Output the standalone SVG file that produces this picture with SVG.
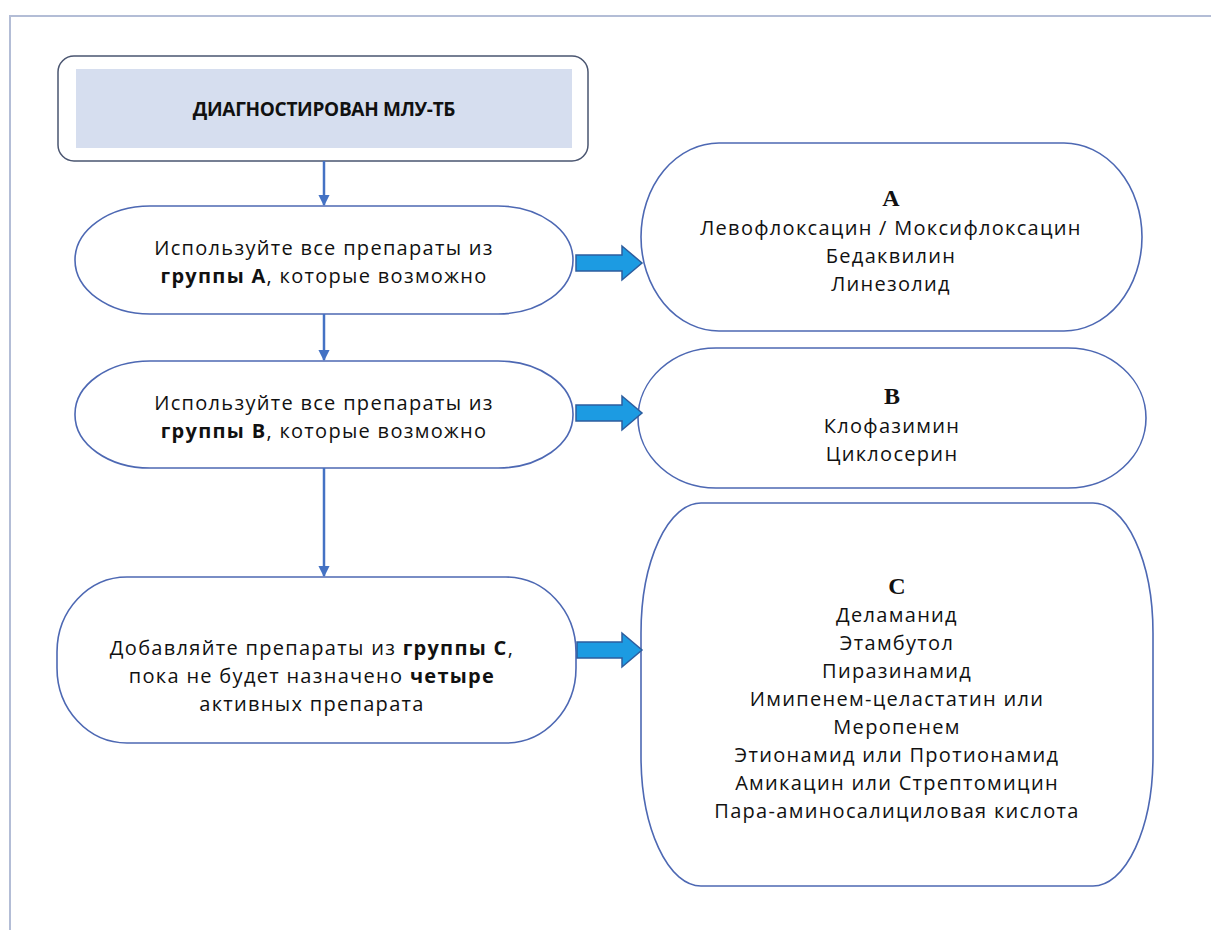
<svg xmlns="http://www.w3.org/2000/svg" width="1211" height="930" viewBox="0 0 1211 930">
<defs>
<style>
.frame{fill:none;stroke:#b3bdd6;stroke-width:2}
.node{fill:#fff;stroke:#4d68b3;stroke-width:1.6}
.t{font-family:"Open Sans","Liberation Sans",sans-serif;font-size:20px;letter-spacing:1.3px;fill:#111;text-anchor:middle}
.b{font-weight:bold}
.h{font-family:"Liberation Serif",serif;font-weight:bold;font-size:24px;fill:#111;text-anchor:middle}
.title{font-family:"Open Sans","Liberation Sans",sans-serif;font-weight:bold;font-size:19px;fill:#111;text-anchor:middle;letter-spacing:-0.3px}
.vline{stroke:#4472c4;stroke-width:2.5;fill:none}
.blk{fill:#1c9be2;stroke:#2d5d9e;stroke-width:1.5;stroke-linejoin:miter}
</style>
<marker id="ah" viewBox="0 0 10 10" refX="9" refY="5" markerWidth="4.5" markerHeight="4.5" orient="auto" markerUnits="strokeWidth">
<path d="M0,0 L10,5 L0,10 z" fill="#4472c4"/>
</marker>
</defs>
<rect width="1211" height="930" fill="#fff"/>
<path class="frame" d="M10,930 V16 H1211"/>

<g id="n0">
<rect x="58" y="56" width="530" height="105" rx="16" fill="#fff" stroke="#4a5570" stroke-width="1.5"/>
<rect x="76" y="69" width="496" height="79" fill="#d6deef"/>
<text class="title" x="324" y="116">ДИАГНОСТИРОВАН МЛУ-ТБ</text>
</g>

<g id="nA">
<rect class="node" x="75" y="206" width="498" height="108" rx="75" ry="54"/>
<text class="t" x="324" y="255">Используйте все препараты из</text>
<text class="t" x="324" y="283"><tspan class="b">группы А</tspan>, которые возможно</text>
</g>

<g id="gA">
<rect class="node" x="641" y="143" width="501" height="188" rx="78" ry="94"/>
<text class="h" x="891" y="206">A</text>
<text class="t" x="891" y="235">Левофлоксацин / Моксифлоксацин</text>
<text class="t" x="891" y="263">Бедаквилин</text>
<text class="t" x="891" y="291">Линезолид</text>
</g>

<g id="nB">
<rect class="node" x="75" y="361" width="498" height="107" rx="75" ry="53"/>
<text class="t" x="324" y="410">Используйте все препараты из</text>
<text class="t" x="324" y="438"><tspan class="b">группы В</tspan>, которые возможно</text>
</g>

<g id="gB">
<rect class="node" x="638" y="348" width="508" height="140" rx="78" ry="70"/>
<text class="h" x="892" y="404">B</text>
<text class="t" x="892" y="433">Клофазимин</text>
<text class="t" x="892" y="461">Циклосерин</text>
</g>

<g id="nC">
<rect class="node" x="57" y="577" width="519" height="166" rx="70" ry="75"/>
<text class="t" x="312" y="655">Добавляйте препараты из <tspan class="b">группы С</tspan>,</text>
<text class="t" x="312" y="683">пока не будет назначено <tspan class="b">четыре</tspan></text>
<text class="t" x="312" y="711">активных препарата</text>
</g>

<g id="gC">
<rect class="node" x="641" y="503" width="512" height="383" rx="60" ry="130"/>
<text class="h" x="897" y="594">C</text>
<text class="t" x="897" y="622">Деламанид</text>
<text class="t" x="897" y="650">Этамбутол</text>
<text class="t" x="897" y="678">Пиразинамид</text>
<text class="t" x="897" y="706">Имипенем-целастатин или</text>
<text class="t" x="897" y="734">Меропенем</text>
<text class="t" x="897" y="762">Этионамид или Протионамид</text>
<text class="t" x="897" y="790">Амикацин или Стрептомицин</text>
<text class="t" x="897" y="818">Пара-аминосалициловая кислота</text>
</g>

<g id="connectors">
<line class="vline" x1="324" y1="161" x2="324" y2="205" marker-end="url(#ah)"/>
<line class="vline" x1="324" y1="314" x2="324" y2="360" marker-end="url(#ah)"/>
<line class="vline" x1="324" y1="468" x2="324" y2="576" marker-end="url(#ah)"/>
<path class="blk" d="M576,255 H622 V246 L642,263 L622,280 V271 H576 Z"/>
<path class="blk" d="M576,405 H622 V396 L642,413 L622,430 V421 H576 Z"/>
<path class="blk" d="M577,642 H622 V633 L642,650 L622,667 V658 H577 Z"/>
</g>
</svg>
